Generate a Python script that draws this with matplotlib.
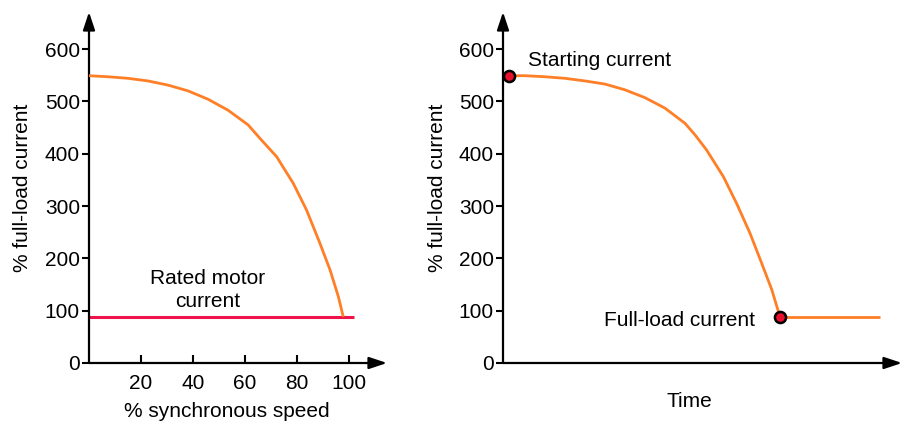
import matplotlib
matplotlib.use('Agg')
import matplotlib.pyplot as plt

plt.rcParams['font.family'] = ['Liberation Sans', 'DejaVu Sans']
plt.rcParams['font.size'] = 15

# ---- data ----
# left panel: current vs speed
speed = [0, 7.3, 15, 22.7, 30.4, 38.1, 45.8, 53.5, 61.2, 65.8, 72.2, 78.6,
         83.7, 88.8, 92.7, 95.9, 97.8]
speed_current = [549, 547, 544, 539, 531, 520, 504, 483, 455, 429, 394, 343,
                 292, 229, 178, 127, 88]
rated_x = [0, 102]
rated_y = [88, 88]
speed_ticks = [20, 40, 60, 80, 100]
current_ticks = [0, 100, 200, 300, 400, 500, 600]

# right panel: current vs time (arbitrary time units)
time = [1.5, 5.5, 10.5, 15.5, 20.5, 25.5, 30.5, 35.5, 40.5, 45.5, 48, 50.9,
        55.1, 58.4, 61.75, 64.7, 67.2, 69.25]
time_current = [549, 549, 547, 544, 539, 533, 522, 507, 487, 458, 436, 407,
                356, 305, 248, 190, 140, 88]
flat_t = [69.25, 94.25]
flat_y = [88, 88]
start_pt = (1.5, 549)
full_pt = (69.25, 88)

ORANGE = '#ff7f27'
RED = '#f0124a'
DOT = '#e8112d'

W, H = 903, 421
fig = plt.figure(figsize=(W / 100, H / 100), dpi=100)

# axes placed in pixel terms: y=0 at 363 px, arrow tips at the top/right edges
ax1 = fig.add_axes([89 / W, (H - 363) / H, (387 - 89) / W, (363 - 12) / H])
ax2 = fig.add_axes([503 / W, (H - 363) / H, (902 - 503) / W, (363 - 12) / H])


def arrow_axes(ax):
    for s in ax.spines.values():
        s.set_visible(False)
    head = dict(arrowstyle='-|>,head_length=0.6,head_width=0.2', lw=1.6,
                color='black', mutation_scale=18, shrinkA=0, shrinkB=0)
    ax.annotate('', xy=(1, 0), xytext=(0, 0), xycoords='axes fraction',
                arrowprops=head, annotation_clip=False)
    ax.annotate('', xy=(0, 1), xytext=(0, 0), xycoords='axes fraction',
                arrowprops=head, annotation_clip=False)
    ax.set_ylim(0, 351 / 0.5233)
    ax.set_yticks(current_ticks)
    ax.tick_params(axis='y', direction='out', length=5, width=1.5, pad=1.5,
                   labelsize=15, colors='black')
    ax.set_ylabel('% full-load current', fontsize=15)


# ---- left panel ----
arrow_axes(ax1)
ax1.set_xlim(0, 298 / 2.6)
ax1.plot(speed, speed_current, color=ORANGE, lw=2, solid_capstyle='butt',
         solid_joinstyle='round', zorder=3)
ax1.plot(rated_x, rated_y, color=RED, lw=2.2, solid_capstyle='butt', zorder=2)
ax1.set_xticks(speed_ticks)
ax1.tick_params(axis='x', direction='in', length=6, width=1.5, pad=8,
                labelsize=15, colors='black')
ax1.text(45.5, 140, 'Rated motor\ncurrent', ha='center', va='center',
         fontsize=15, linespacing=1.25)
ax1.set_xlabel('% synchronous speed', fontsize=15)
ax1.xaxis.set_label_coords(0.462, -0.112)
ax1.yaxis.set_label_coords(-0.19, 0.5)

# ---- right panel ----
arrow_axes(ax2)
ax2.set_xlim(0, 99.75)
ax2.set_xticks([])
ax2.plot(time, time_current, color=ORANGE, lw=2, solid_joinstyle='round', zorder=3)
ax2.plot(flat_t, flat_y, color=ORANGE, lw=2, solid_capstyle='butt', zorder=3)
ax2.plot([start_pt[0], full_pt[0]], [start_pt[1], full_pt[1]], 'o', ms=8,
         mfc=DOT, mec='black', mew=1.8, clip_on=False, zorder=4)
ax2.text(6.25, 579, 'Starting current', ha='left', va='center', fontsize=15)
ax2.text(63, 82, 'Full-load current', ha='right', va='center', fontsize=15)
ax2.set_xlabel('Time', fontsize=15)
ax2.xaxis.set_label_coords(0.466, -0.082)
ax2.yaxis.set_label_coords(-0.14, 0.5)

fig.savefig('out.png', dpi=100)
